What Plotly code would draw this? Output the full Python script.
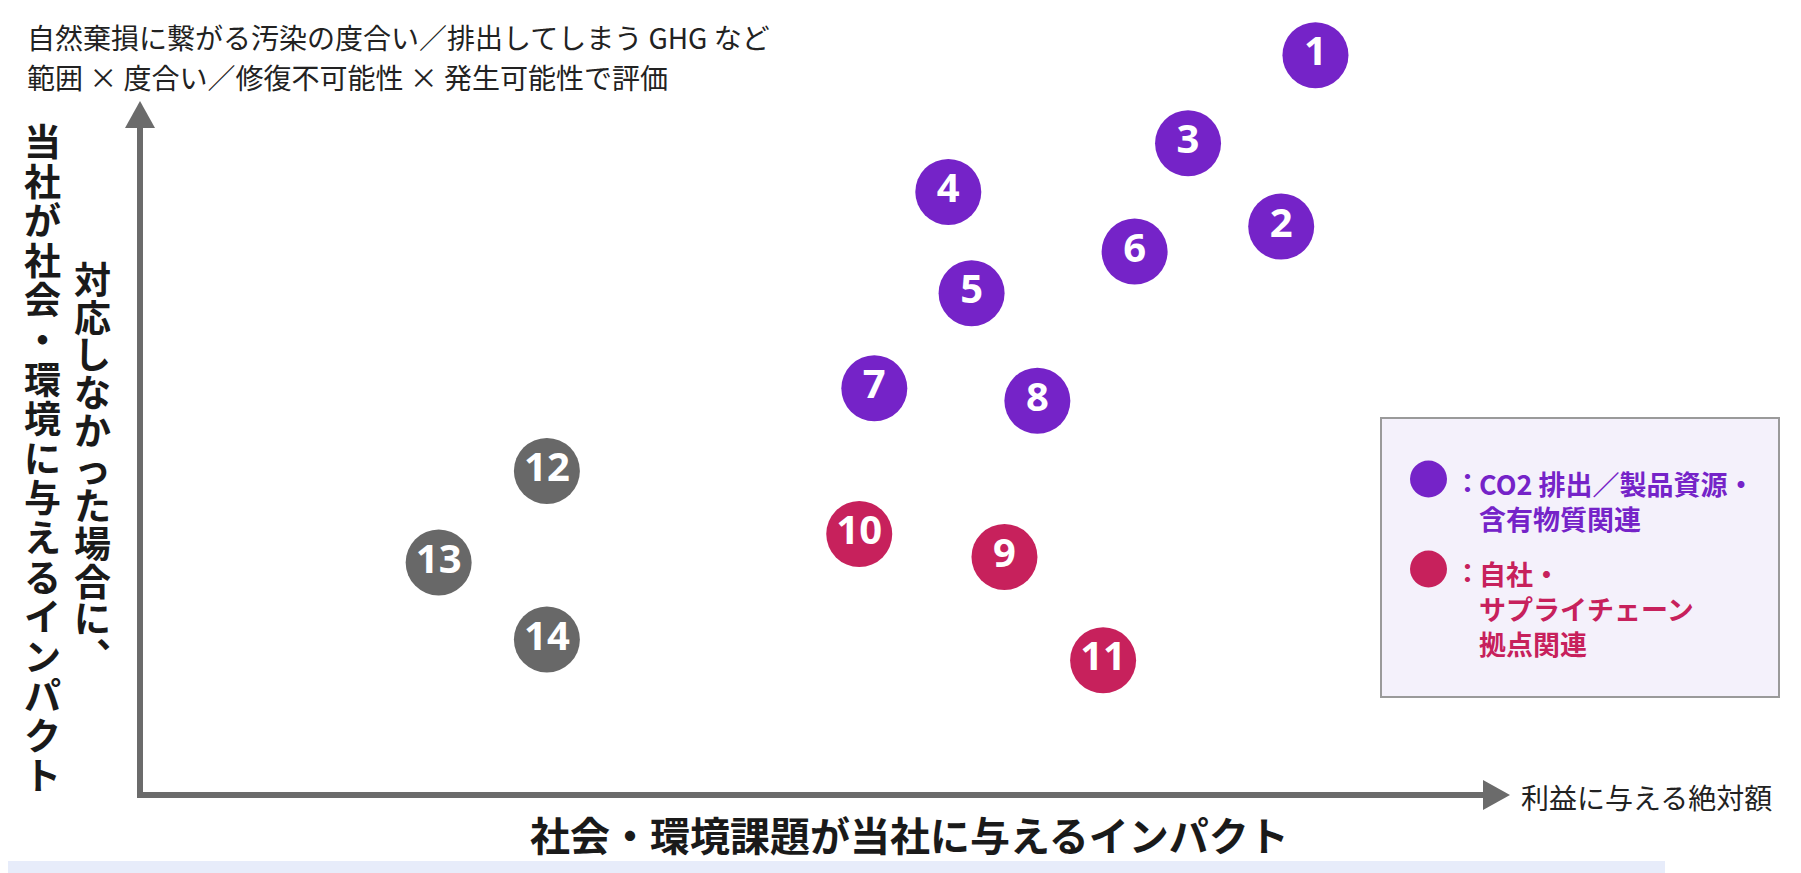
import plotly.graph_objects as go

# 課題番号と位置 (x: 社会・環境課題が当社に与えるインパクト, y: 当社が社会・環境に与えるインパクト)
labels = ["1", "2", "3", "4", "5", "6", "7", "8", "9", "10", "11", "12", "13", "14"]
x_vals = [85.8, 83.3, 76.5, 59.0, 60.7, 72.6, 53.6, 65.5, 63.1, 52.5, 70.3, 29.7, 21.8, 29.7]
y_vals = [106.6, 81.9, 93.9, 86.9, 72.3, 78.3, 58.6, 56.8, 34.3, 37.6, 19.4, 46.7, 33.5, 22.4]
groups = ["co2"] * 8 + ["site"] * 3 + ["other"] * 3

group_colors = {"co2": "#7523c8", "site": "#c7215c", "other": "#686868"}

top_note_1 = "自然棄損に繋がる汚染の度合い／排出してしまう GHG など"
top_note_2 = "範囲 × 度合い／修復不可能性 × 発生可能性で評価"
y_title_1 = "当社が社会・環境に与えるインパクト"
y_title_2 = "対応しなかった場合に︑"
x_title = "社会・環境課題が当社に与えるインパクト"
x_end_label = "利益に与える絶対額"
legend_co2 = "CO2 排出／製品資源・<br>含有物質関連"
legend_site = "自社・<br>サプライチェーン<br>拠点関連"

# ページ余白 (body margin) の分だけ図を小さくする
PAGE = 8
W, H = 1801 - PAGE, 873 - PAGE
# 原点と矢印の先端 (画面上の px)
OX, OY = 140 - PAGE, 795 - PAGE
XTIP, YTIP = 1510 - PAGE, 101 - PAGE
sx = (XTIP - OX) / 100.0
sy = (OY - YTIP) / 100.0


def px(x):
    return (x - PAGE) / W


def py(y):
    return 1 - (y - PAGE) / H


JP = "Noto Sans CJK JP"
axis_gray = "#6b6b6b"

fig = go.Figure()

for g in ["co2", "site", "other"]:
    idx = [i for i, gg in enumerate(groups) if gg == g]
    fig.add_trace(go.Scatter(
        x=[x_vals[i] for i in idx],
        y=[y_vals[i] for i in idx],
        text=[labels[i] for i in idx],
        mode="markers+text",
        textposition="middle center",
        marker=dict(size=66, color=group_colors[g], line=dict(width=0)),
        textfont=dict(family="Noto Sans", size=40, color="white", weight="bold"),
        hoverinfo="skip",
        showlegend=False,
    ))

shapes = []
# 軸 (矢印)
head_len, head_w = 27, 30
shapes.append(dict(type="line", xref="x", yref="y", x0=0, y0=0, x1=0,
                   y1=100 - head_len / sy, line=dict(color=axis_gray, width=6)))
shapes.append(dict(type="line", xref="x", yref="y", x0=-3 / sx, y0=0,
                   x1=100 - head_len / sx, y1=0, line=dict(color=axis_gray, width=6)))
shapes.append(dict(type="path", xref="x", yref="y",
                   path=f"M {-head_w / 2 / sx} {100 - head_len / sy} L {head_w / 2 / sx} {100 - head_len / sy} L 0 100 Z",
                   fillcolor=axis_gray, line=dict(width=0)))
shapes.append(dict(type="path", xref="x", yref="y",
                   path=f"M {100 - head_len / sx} {-head_w / 2 / sy} L {100 - head_len / sx} {head_w / 2 / sy} L 100 0 Z",
                   fillcolor=axis_gray, line=dict(width=0)))
# 凡例の枠
shapes.append(dict(type="rect", xref="paper", yref="paper",
                   x0=px(1381), x1=px(1779), y0=py(697), y1=py(418),
                   fillcolor="#f4f1fb", line=dict(color="#9a9a9a", width=2), layer="below"))
for cy, g in [(479, "co2"), (569, "site")]:
    shapes.append(dict(type="circle", xref="paper", yref="paper",
                       x0=px(1428.5 - 18.5), x1=px(1428.5 + 18.5), y0=py(cy + 18.5), y1=py(cy - 18.5),
                       fillcolor=group_colors[g], line=dict(width=0)))
# 下部の帯
shapes.append(dict(type="rect", xref="paper", yref="paper",
                   x0=0, x1=px(1665), y0=0, y1=py(861),
                   fillcolor="#e7ecfa", line=dict(width=0), layer="below"))

annotations = []
annotations.append(dict(text=top_note_1, x=px(25), y=py(37), xref="paper", yref="paper",
                        xanchor="left", yanchor="middle", showarrow=False,
                        font=dict(family=JP, size=28, color="#222222")))
annotations.append(dict(text=top_note_2, x=px(25), y=py(77), xref="paper", yref="paper",
                        xanchor="left", yanchor="middle", showarrow=False,
                        font=dict(family=JP, size=28, color="#222222")))
annotations.append(dict(text=x_end_label, x=px(1519), y=py(797), xref="paper", yref="paper",
                        xanchor="left", yanchor="middle", showarrow=False,
                        font=dict(family=JP, size=28, color="#222222")))
annotations.append(dict(text=x_title, x=px(909), y=py(834), xref="paper", yref="paper",
                        xanchor="center", yanchor="middle", showarrow=False,
                        font=dict(family=JP, size=40, color="#1a1a1a", weight="bold")))

# 縦書きのタイトル (1文字ずつ)
for col_x, first_y, pitch, txt in [(42, 140, 39.6, y_title_1), (92, 278, 37.7, y_title_2)]:
    for k, ch in enumerate(txt):
        annotations.append(dict(text=ch, x=px(col_x), y=py(first_y + k * pitch),
                                xref="paper", yref="paper", xanchor="center", yanchor="middle",
                                showarrow=False,
                                font=dict(family=JP, size=37, color="#1a1a1a", weight="bold")))

# 凡例テキスト
for cy, g, txt in [(479, "co2", legend_co2), (569, "site", legend_site)]:
    annotations.append(dict(text="：", x=px(1452), y=py(cy + 2), xref="paper", yref="paper",
                            xanchor="left", yanchor="middle", showarrow=False,
                            font=dict(family=JP, size=27, color=group_colors[g], weight="bold")))
    annotations.append(dict(text=txt, x=px(1477), y=py(cy - 17.5), xref="paper", yref="paper",
                            xanchor="left", yanchor="top", align="left", showarrow=False,
                            font=dict(family=JP, size=27, color=group_colors[g], weight="bold")))

fig.update_layout(
    width=W, height=H,
    margin=dict(l=0, r=0, t=0, b=0),
    paper_bgcolor="white", plot_bgcolor="white",
    xaxis=dict(range=[-OX / sx, (W - OX) / sx], visible=False, fixedrange=True),
    yaxis=dict(range=[-(H - OY) / sy, OY / sy], visible=False, fixedrange=True),
    shapes=shapes,
    annotations=annotations,
    showlegend=False,
)

fig.write_html("out.html")
